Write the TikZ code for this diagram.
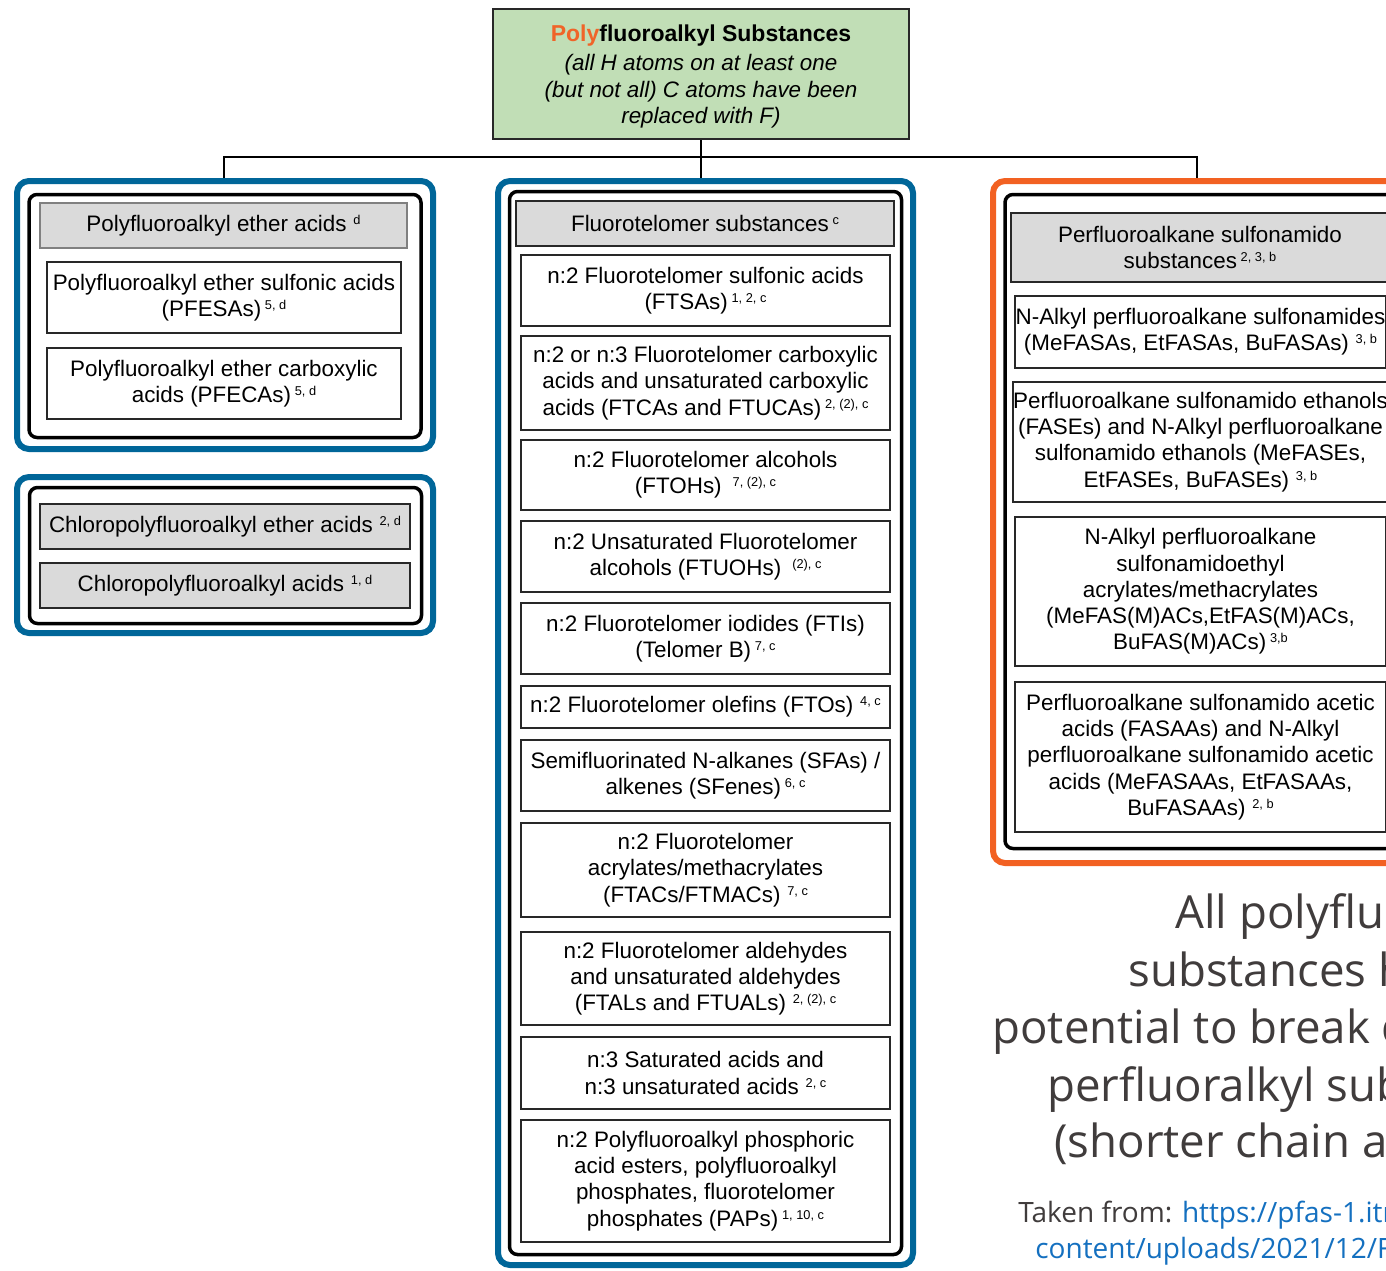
\documentclass[tikz,border=0pt]{standalone}
\usepackage{fontspec}
\setmainfont{Liberation Sans}
\newfontfamily\notefont{Open Sans}
\definecolor{panelblue}{RGB}{0,102,153}
\definecolor{panelorange}{RGB}{242,97,34}
\definecolor{polyorange}{RGB}{240,100,40}
\definecolor{topgreen}{RGB}{193,222,182}
\definecolor{headgray}{RGB}{218,218,218}
\definecolor{boxline}{RGB}{40,40,40}
\definecolor{notegray}{RGB}{64,60,60}
\definecolor{linkblue}{RGB}{20,112,192}
% small raised reference marks after a label
\newcommand\refmark[1]{\raisebox{3.5pt}{\fontsize{6.4}{7}\selectfont #1}}
\newcommand\fn[1]{\,\refmark{#1}}
\newcommand\fns[1]{\hspace{3.4pt}\refmark{#1}}
\newcommand\fnw[1]{\hspace{5.5pt}\refmark{#1}}
\begin{document}
\begin{tikzpicture}[x=0.5pt,y=-0.5pt,
  wh/.style 2 args={minimum width={#1*0.5pt}, minimum height={#2*0.5pt}},
  txt/.style={font=\fontsize{11.2}{13.15}\selectfont, align=center, inner sep=0pt},
  bluepanel/.style={draw=panelblue, line width=3pt, rounded corners=6pt, inner sep=0pt, fill=white},
  orangepanel/.style={draw=panelorange, line width=3pt, rounded corners=6pt, inner sep=0pt, fill=white},
  innerpanel/.style={draw=black, line width=1.75pt, rounded corners=4pt, inner sep=0pt},
  headbox/.style={txt, draw=boxline, line width=1pt, fill=headgray},
  itembox/.style={txt, draw=boxline, line width=0.9pt, fill=white},
  topbox/.style={txt, draw=boxline, line width=1pt, fill=topgreen},
  link/.style={draw=black, line width=1pt},
  note/.style={font=\notefont\fontsize{22.8}{28}\selectfont, text=notegray, inner sep=0pt, anchor=base west},
  src/.style={font=\notefont\fontsize{14}{18}\selectfont, inner sep=0pt, anchor=base west}]

\useasboundingbox (0,0) rectangle (1386,1270);
\clip (0,0) rectangle (1386,1270);
\fill[white] (0,0) rectangle (1386,1270);

% root
\node[topbox, wh={416}{130}] (top) at (701,74) {};
\node[txt] (toptext) at (701,76.5)
  {{\fontsize{11.5}{13}\bfseries{\color{polyorange}Poly}fluoroalkyl Substances}\\[1.4pt]
   \itshape (all H atoms on at least one\\
   \itshape (but not all) C atoms have been\\
   \itshape replaced with F)};

% left group: ether acids
\node[bluepanel, wh={416}{268}] (lp1) at (225,315) {};
\node[innerpanel, wh={392}{243}] (lp1in) at (225,316) {};
\node[headbox, draw=gray, wh={367}{45}] (eth) at (223.5,225.5) {Polyfluoroalkyl ether acids\fns{d}};
\node[itembox, wh={354}{71}] (pfesa) at (224,297.5) {Polyfluoroalkyl ether sulfonic acids\\(PFESAs)\fn{5, d}};
\node[itembox, wh={354}{71}] (pfeca) at (224,383.5) {Polyfluoroalkyl ether carboxylic\\acids (PFECAs)\fn{5, d}};

% left group: chloro acids
\node[bluepanel, wh={416}{156}] (lp2) at (225,555) {};
\node[innerpanel, wh={392}{136}] (lp2in) at (225.5,555.5) {};
\node[headbox, wh={370}{45}] (clea) at (225,526.5) {Chloropolyfluoroalkyl ether acids\fns{2, d}};
\node[headbox, wh={370}{45}] (cla) at (225,585.5) {Chloropolyfluoroalkyl acids\fns{1, d}};

% middle group: fluorotelomers
\node[bluepanel, wh={415}{1084}] (mp) at (705.5,723) {};
\node[innerpanel, wh={392}{1063}] (mpin) at (705.5,723) {};
\node[headbox, wh={378}{45}] (ft) at (705,223.5) {Fluorotelomer substances\fn{c}};
\node[itembox, wh={369}{71}] (m1) at (705.5,290.5) {n:2 Fluorotelomer sulfonic acids\\(FTSAs)\fn{1, 2, c}};
\node[itembox, wh={369}{94}] (m2) at (705.5,383) {n:2 or n:3 Fluorotelomer carboxylic\\acids and unsaturated carboxylic\\acids (FTCAs and FTUCAs)\fn{2, (2), c}};
\node[itembox, wh={369}{70}] (m3) at (705.5,475) {n:2 Fluorotelomer alcohols\\(FTOHs)\fnw{7, (2), c}};
\node[itembox, wh={369}{71}] (m4) at (705.5,556.5) {n:2 Unsaturated Fluorotelomer\\alcohols (FTUOHs)\fnw{(2), c}};
\node[itembox, wh={369}{71}] (m5) at (705.5,638.5) {n:2 Fluorotelomer iodides (FTIs)\\(Telomer B)\fn{7, c}};
\node[itembox, wh={369}{42}] (m6) at (705.5,707) {n:2 Fluorotelomer olefins (FTOs)\fns{4, c}};
\node[itembox, wh={369}{71}] (m7) at (705.5,775.5) {Semifluorinated N-alkanes (SFAs) /\\alkenes (SFenes)\fn{6, c}};
\node[itembox, wh={369}{94}] (m8) at (705.5,870) {n:2 Fluorotelomer\\acrylates/methacrylates\\(FTACs/FTMACs)\fns{7, c}};
\node[itembox, wh={369}{93}] (m9) at (705.5,978.5) {n:2 Fluorotelomer aldehydes\\and unsaturated aldehydes\\(FTALs and FTUALs)\fns{2, (2), c}};
\node[itembox, wh={369}{72}] (m10) at (705.5,1073) {n:3 Saturated acids and\\n:3 unsaturated acids\fns{2, c}};
\node[itembox, wh={369}{122}] (m11) at (705.5,1181) {n:2 Polyfluoroalkyl phosphoric\\acid esters, polyfluoroalkyl\\phosphates, fluorotelomer\\phosphates (PAPs)\fn{1, 10, c}};

% right group: sulfonamido substances
\node[orangepanel, wh={427}{682}] (rp) at (1206.5,522) {};
\node[innerpanel, wh={400}{654}] (rpin) at (1205,521.5) {};
\node[headbox, wh={378}{69}] (sa) at (1200,247.5) {Perfluoroalkane sulfonamido\\substances\fn{2, 3, b}};
\node[itembox, wh={371}{72}] (r1) at (1200.5,332) {N-Alkyl perfluoroalkane sulfonamides\\(MeFASAs, EtFASAs, BuFASAs)\fns{3, b}};
\node[itembox, wh={371}{120}] (r2) at (1200.5,442) {Perfluoroalkane sulfonamido ethanols\\(FASEs) and N-Alkyl perfluoroalkane\\sulfonamido ethanols (MeFASEs,\\EtFASEs, BuFASEs)\fns{3, b}};
\node[itembox, wh={371}{149}] (r3) at (1200.5,591.5) {N-Alkyl perfluoroalkane\\sulfonamidoethyl\\acrylates/methacrylates\\(MeFAS(M)ACs,EtFAS(M)ACs,\\BuFAS(M)ACs)\fn{3,b}};
\node[itembox, wh={371}{150}] (r4) at (1200.5,757) {Perfluoroalkane sulfonamido acetic\\acids (FASAAs) and N-Alkyl\\perfluoroalkane sulfonamido acetic\\acids (MeFASAAs, EtFASAAs,\\BuFASAAs)\fns{2, b}};

% tree connectors
\coordinate (busL) at (224,157);
\coordinate (busR) at (1197,157);
\draw[link] (busL |- lp1.north) -- (busL) -- (busR) -- (busR |- rp.north);
\draw[link] (top.south) -- (top.south |- mp.north);

% side note
\node[note] (t1) at (1175,928) {All polyfluoroalkyl};
\node[note] (t2) at (1128,986) {substances have};
\node[note] (t3) at (992,1043) {potential to break down};
\node[note] (t4) at (1047,1101) {perfluoralkyl substances};
\node[note] (t5) at (1054,1157) {(shorter chain and};
\node[src] (s1) at (1018,1222) {\color{notegray}Taken from: \color{linkblue}https://pfas-1.itrcweb.org/wp-};
\node[src, text=linkblue] (s2) at (1035,1258) {content/uploads/2021/12/F};
\end{tikzpicture}
\end{document}
